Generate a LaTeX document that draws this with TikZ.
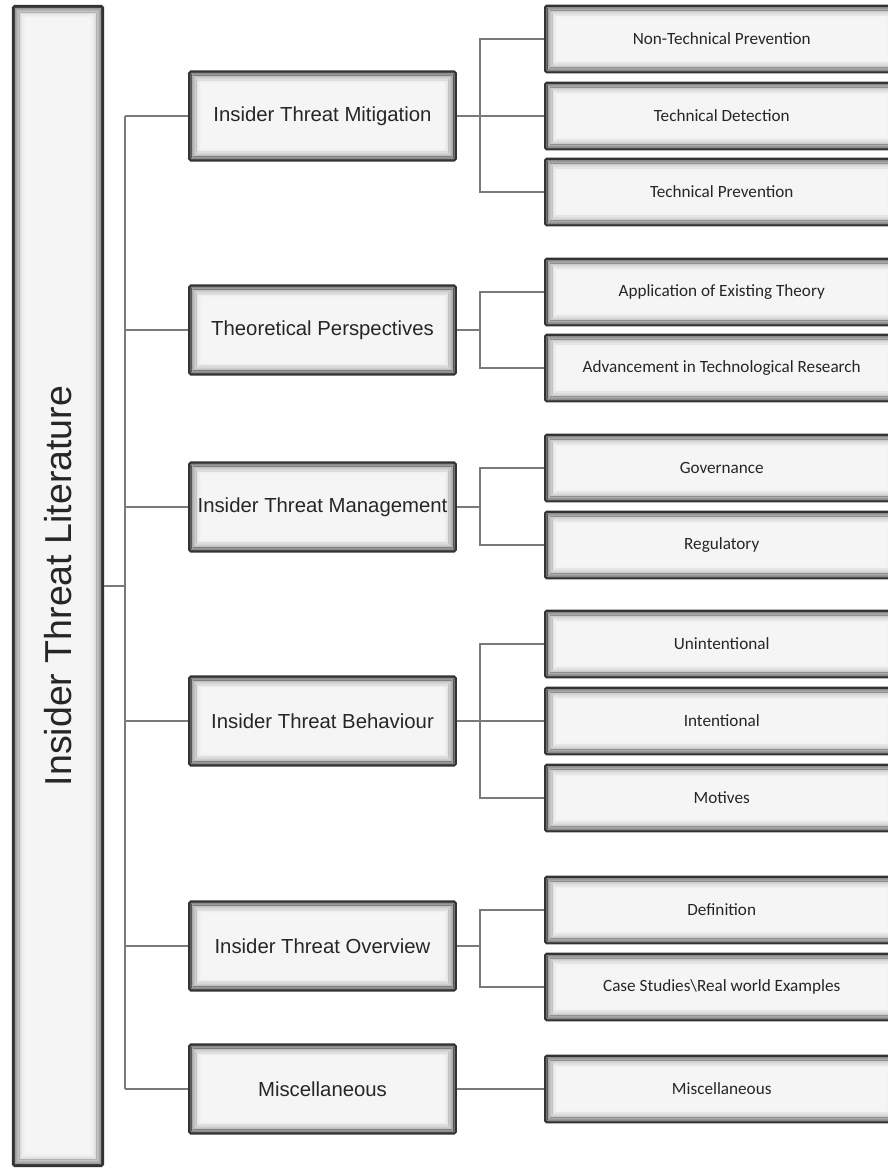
\documentclass[tikz,border=0pt]{standalone}
\usepackage{graphicx}
\usepackage{fontspec}
\setmainfont{Liberation Sans}
\newfontfamily\leaffont{Carlito}
\usepackage{tikz}

\begin{document}
\begin{tikzpicture}[
  x=0.6pt,y=-0.6pt,
  conn/.style={draw=black!52, line width=1.4pt},
  shadebox/.style={draw=black!80, line width=1.3pt, fill=black!4, rounded corners=1pt, text=black!85,
    path picture={\foreach \k [evaluate=\k as \op using 0.5*(1-\k/14)^2] in {0,...,13}
      \draw[black, opacity=\op, line width=0.55pt, sharp corners]
        ([shift={({(\k+0.5)*0.5pt+0.4pt},{(\k+0.5)*0.5pt+0.4pt})}]path picture bounding box.south west) rectangle
        ([shift={({-(\k+0.5)*0.5pt-0.4pt},{-(\k+0.5)*0.5pt-0.4pt})}]path picture bounding box.north east);}},
  mid/.style={shadebox, minimum width=160pt, minimum height=53.4pt, inner sep=0pt, font=\fontsize{12.2}{14}\selectfont},
  leaf/.style={shadebox, anchor=west, minimum width=212pt, minimum height=40pt, inner sep=0pt, font=\leaffont\fontsize{10.3}{12}\selectfont}]
\useasboundingbox (0,0) rectangle (888,1168);
\clip (0,0) rectangle (888,1168);
% root
\node[shadebox, minimum width=54pt, minimum height=696pt, inner sep=0pt, font=\fontsize{22.5}{26}\selectfont] (root) at (58,586)
 {\rotatebox{90}{Insider Threat Literature}};
% main branches
\node[mid] (mit)   at (322.5,116) {Insider Threat Mitigation};
\node[mid] (theo)  at (322.5,330) {Theoretical Perspectives};
\node[mid] (mgmt)  at (322.5,507) {Insider Threat Management};
\node[mid] (behav) at (322.5,721) {Insider Threat Behaviour};
\node[mid] (over)  at (322.5,946) {Insider Threat Overview};
\node[mid] (misc)  at (322.5,1089) {Miscellaneous};
% leaves
\node[leaf] (ntp)    at (544,39)  {Non-Technical Prevention};
\node[leaf] (tdet)   at (544,116) {Technical Detection};
\node[leaf] (tprev)  at (544,192) {Technical Prevention};
\node[leaf] (appl)   at (544,292) {Application of Existing Theory};
\node[leaf] (adv)    at (544,368) {Advancement in Technological Research};
\node[leaf] (gov)    at (544,468) {Governance};
\node[leaf] (reg)    at (544,545) {Regulatory};
\node[leaf] (unint)  at (544,644) {Unintentional};
\node[leaf] (intent) at (544,721) {Intentional};
\node[leaf] (motiv)  at (544,798) {Motives};
\node[leaf] (defn)   at (544,910) {Definition};
\node[leaf] (cases)  at (544,987) {Case Studies\textbackslash Real world Examples};
\node[leaf] (miscb)  at (544,1089) {Miscellaneous};
% connectors
\coordinate (trunk) at (125,0);
\coordinate (bx) at (480,0);
\draw[conn] (root.east) -- (root.east -| trunk);
\draw[conn] (mit.west -| trunk) -- (misc.west -| trunk);
\foreach \m in {mit,theo,mgmt,behav,over,misc}
  \draw[conn] (\m.west) -- (\m.west -| trunk);
\foreach \m/\c in {mit/ntp,mit/tdet,mit/tprev,theo/appl,theo/adv,mgmt/gov,mgmt/reg,
                   behav/unint,behav/intent,behav/motiv,over/defn,over/cases}
  \draw[conn] (\m.east) -- (\m.east -| bx) |- (\c.west);
\draw[conn] (misc.east) -- (miscb.west);
\end{tikzpicture}
\end{document}
